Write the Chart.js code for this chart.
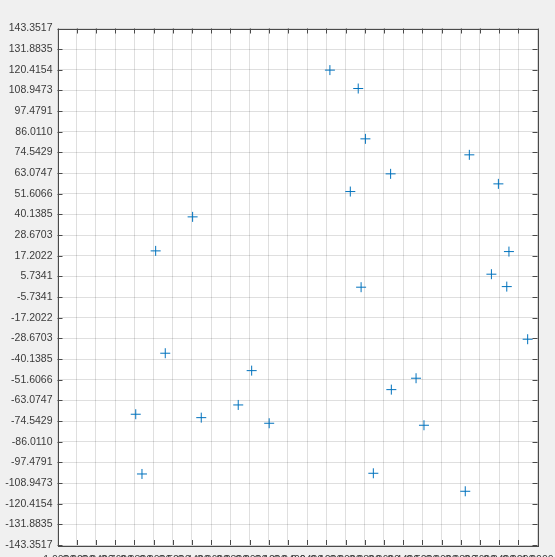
<!DOCTYPE html>
<html>
<head>
<meta charset="utf-8">
<script src="https://cdn.jsdelivr.net/npm/chart.js@4/dist/chart.umd.min.js"></script>
<style>
  html, body { margin: 0; padding: 0; background: #f0f0f0; overflow: hidden; }
  #wrap { width: 555px; height: 580px; }
</style>
</head>
<body>
<div id="wrap"><canvas id="myChart" width="555" height="580"></canvas></div>
<script>
// point coordinates
var xValues = [0.135, 0.253, 0.283, 0.220, 0.388, 0.716, 0.837, 0.881, 0.808, 0.872, 0.265, 0.959, 0.494,
  0.391, 0.527, 0.316, 0.699, -0.437, -0.591, -0.551, -0.191, -0.247, -0.674, -0.401, -0.118, -0.648];
var yValues = [120.25, 110.03, 82.10, 52.84, 62.67, 73.22, 57.11, 19.52, 6.97, 0.08, -0.25, -29.13, -50.78,
  -57.11, -76.88, -103.54, -113.53, 38.79, 19.91, -36.90, -46.56, -65.61, -70.77, -72.66, -75.77, -103.93];

var xTicks = [-1.00, -0.92, -0.84, -0.76, -0.68, -0.60, -0.52, -0.44, -0.36, -0.28, -0.20, -0.12, -0.04,
  0.04, 0.12, 0.20, 0.28, 0.36, 0.44, 0.52, 0.60, 0.68, 0.76, 0.84, 0.92, 1.00];
var yTicks = [-143.3517, -131.8835, -120.4154, -108.9473, -97.4791, -86.0110, -74.5429, -63.0747,
  -51.6066, -40.1385, -28.6703, -17.2022, -5.7341, 5.7341, 17.2022, 28.6703, 40.1385, 51.6066,
  63.0747, 74.5429, 86.0110, 97.4791, 108.9473, 120.4154, 131.8835, 143.3517];

var points = xValues.map(function(x, i) {
  return { x: x, y: yValues[i] };
});

// white plot background, box and inward tick marks like the original
var axesBox = {
  id: 'axesBox',
  beforeDraw: function(chart) {
    var a = chart.chartArea, ctx = chart.ctx;
    ctx.save();
    ctx.fillStyle = '#ffffff';
    ctx.fillRect(a.left, a.top, a.right - a.left, a.bottom - a.top);
    ctx.restore();
  },
  afterDatasetsDraw: function(chart) {
    var a = chart.chartArea, ctx = chart.ctx;
    var xs = chart.scales.x, ys = chart.scales.y;
    var len = 5;
    ctx.save();
    ctx.strokeStyle = '#4a4a4a';
    ctx.lineWidth = 1;
    ctx.beginPath();
    xTicks.forEach(function(v) {
      var px = Math.round(xs.getPixelForValue(v)) + 0.5;
      ctx.moveTo(px, a.bottom); ctx.lineTo(px, a.bottom - len);
      ctx.moveTo(px, a.top); ctx.lineTo(px, a.top + len);
    });
    yTicks.forEach(function(v) {
      var py = Math.round(ys.getPixelForValue(v)) + 0.5;
      ctx.moveTo(a.left, py); ctx.lineTo(a.left + len, py);
      ctx.moveTo(a.right, py); ctx.lineTo(a.right - len, py);
    });
    ctx.stroke();
    ctx.strokeRect(Math.round(a.left) + 0.5, Math.round(a.top) + 0.5,
      Math.round(a.right - a.left), Math.round(a.bottom - a.top));
    ctx.restore();
  }
};

var ctx = document.getElementById('myChart').getContext('2d');
var myChart = new Chart(ctx, {
  type: 'scatter',
  data: {
    datasets: [
      {
        data: points,
        pointStyle: 'cross',
        pointRadius: 5,
        pointHoverRadius: 5,
        borderWidth: 1,
        borderColor: '#0072BD',
        backgroundColor: '#0072BD',
      },
    ],
  },
  options: {
    responsive: false,
    animation: false,
    devicePixelRatio: 1,
    layout: { padding: { top: 28.5, right: 17.5, left: 0, bottom: 0 } },
    plugins: { legend: { display: false }, tooltip: { enabled: false } },
    scales: {
      x: {
        type: 'linear',
        min: -1,
        max: 1,
        afterBuildTicks: function(scale) {
          scale.ticks = xTicks.map(function(v) { return { value: v }; });
        },
        afterFit: function(scale) {
          scale.height = 35;
          scale.paddingLeft = 0;
          scale.paddingRight = 0;
        },
        grid: { color: 'rgba(38,38,38,0.15)', drawTicks: false },
        border: { display: false },
        ticks: {
          autoSkip: false,
          maxRotation: 0,
          minRotation: 0,
          padding: 9,
          color: '#3a3a3a',
          font: { family: 'Liberation Sans', size: 10.5 },
          callback: function(v) { return Number(v).toFixed(4); },
        },
      },
      y: {
        type: 'linear',
        min: -143.3517,
        max: 143.3517,
        afterBuildTicks: function(scale) {
          scale.ticks = yTicks.map(function(v) { return { value: v }; });
        },
        afterFit: function(scale) {
          scale.width = 57.5;
          scale.paddingTop = 0;
          scale.paddingBottom = 0;
        },
        grid: { color: 'rgba(38,38,38,0.15)', drawTicks: false },
        border: { display: false },
        ticks: {
          autoSkip: false,
          padding: 5,
          color: '#3a3a3a',
          font: { family: 'Liberation Sans', size: 10.5 },
          callback: function(v) { return Number(v).toFixed(4); },
        },
      },
    },
  },
  plugins: [axesBox],
});
</script>
</body>
</html>
